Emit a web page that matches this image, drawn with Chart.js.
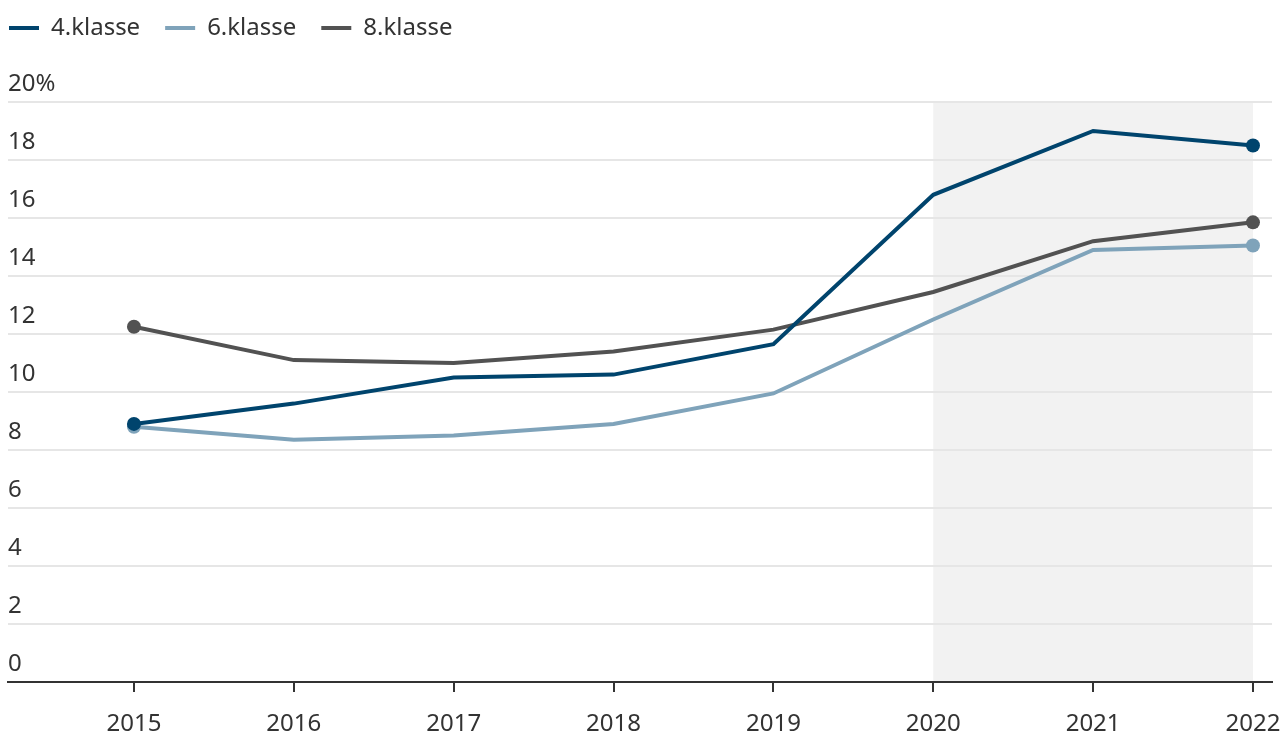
<!DOCTYPE html>
<html>
<head>
<meta charset="utf-8">
<script src="https://cdn.jsdelivr.net/npm/chart.js@4.4.1/dist/chart.umd.min.js"></script>
<style>
  html, body { margin: 0; padding: 0; background: #fff; }
  #wrap { width: 1284px; height: 734px; }
</style>
</head>
<body>
<div id="wrap"><canvas id="chart"></canvas></div>
<script>
'use strict';

// ─── Data ─────────────────────────────────────────────────────────────────
const years    = [2015, 2016, 2017, 2018, 2019, 2020, 2021, 2022];
const klasse4  = [8.9, 9.6, 10.5, 10.6, 11.65, 16.8, 19.0, 18.5];
const klasse6  = [8.8, 8.35, 8.5, 8.9, 9.95, 12.5, 14.9, 15.05];
const klasse8  = [12.25, 11.1, 11.0, 11.4, 12.15, 13.45, 15.2, 15.85];
const yTicks   = [0, 2, 4, 6, 8, 10, 12, 14, 16, 18, 20];
const shadeFrom = 2020;
const shadeTo   = 2022;

const FONT = { family: '"Noto Sans", sans-serif', size: 24 };
const TEXT = '#333333';

const pts = vals => vals.map((v, i) => ({ x: years[i], y: v }));
const endDots = ctx => (ctx.dataIndex === 0 || ctx.dataIndex === years.length - 1) ? 7 : 0;

function series(label, vals, color) {
  return {
    label, data: pts(vals),
    borderColor: color, backgroundColor: color,
    pointBackgroundColor: color, pointBorderWidth: 0,
    borderWidth: 4, pointRadius: endDots, pointHoverRadius: endDots,
    tension: 0,
  };
}

// ─── Plugins ──────────────────────────────────────────────────────────────
// grey band behind the last years
const shade = {
  id: 'shade',
  beforeDraw(chart) {
    const { ctx, chartArea: a, scales: { x } } = chart;
    const x0 = x.getPixelForValue(shadeFrom);
    const x1 = x.getPixelForValue(shadeTo);
    ctx.save();
    ctx.fillStyle = '#f2f2f2';
    ctx.fillRect(x0, a.top, x1 - x0, a.bottom - a.top);
    ctx.restore();
  },
};

// room between legend and plot
const legendSpace = {
  id: 'legendSpace',
  beforeInit(chart) {
    const fit = chart.legend.fit;
    chart.legend.fit = function () { fit.bind(chart.legend)(); this.height = 95; };
  },
};

new Chart(document.getElementById('chart'), {
  type: 'line',
  data: {
    datasets: [
      series('4.klasse', klasse4, '#00446d'),
      series('6.klasse', klasse6, '#7fa3ba'),
      series('8.klasse', klasse8, '#525252'),
    ],
  },
  options: {
    responsive: true, maintainAspectRatio: false, animation: false,
    layout: { padding: { left: 0, right: 12, top: 7, bottom: 0 } },
    plugins: {
      tooltip: { enabled: false },
      legend: {
        position: 'top', align: 'start',
        labels: {
          color: TEXT, font: FONT, boxWidth: 30, boxHeight: 4, padding: 9,
          generateLabels(chart) {
            return chart.data.datasets.map((d, i) => ({
              text: d.label + '\u2002\u2009', fillStyle: d.borderColor, strokeStyle: d.borderColor,
              lineWidth: 0, fontColor: TEXT, datasetIndex: i,
            }));
          },
        },
      },
    },
    scales: {
      x: {
        type: 'linear', min: 2014.212, max: 2022.119,
        afterBuildTicks: axis => { axis.ticks = years.map(v => ({ value: v })); },
        afterFit: axis => { axis.height = 52; axis.paddingLeft = 0; axis.paddingRight = 0; },
        grid: { drawOnChartArea: false, drawTicks: true, tickLength: 10, color: TEXT, lineWidth: 2 },
        border: { display: true, color: TEXT, width: 2 },
        ticks: { color: TEXT, font: FONT, padding: 18, autoSkip: false, maxRotation: 0, callback: v => String(v) },
      },
      y: {
        min: 0, max: 20,
        afterBuildTicks: axis => { axis.ticks = yTicks.map(v => ({ value: v })); },
        afterFit: axis => { axis.paddingTop = 0; axis.paddingBottom = 0; },
        grid: { color: '#e6e6e6', lineWidth: 2, drawTicks: true, tickLength: 8, tickColor: 'rgba(0,0,0,0)' },
        border: { display: false },
        ticks: {
          mirror: true, padding: 0, labelOffset: -18, color: TEXT, font: FONT,
          callback: v => v === 20 ? '20%' : String(v),
        },
      },
    },
  },
  plugins: [shade, legendSpace],
});
</script>
</body>
</html>
